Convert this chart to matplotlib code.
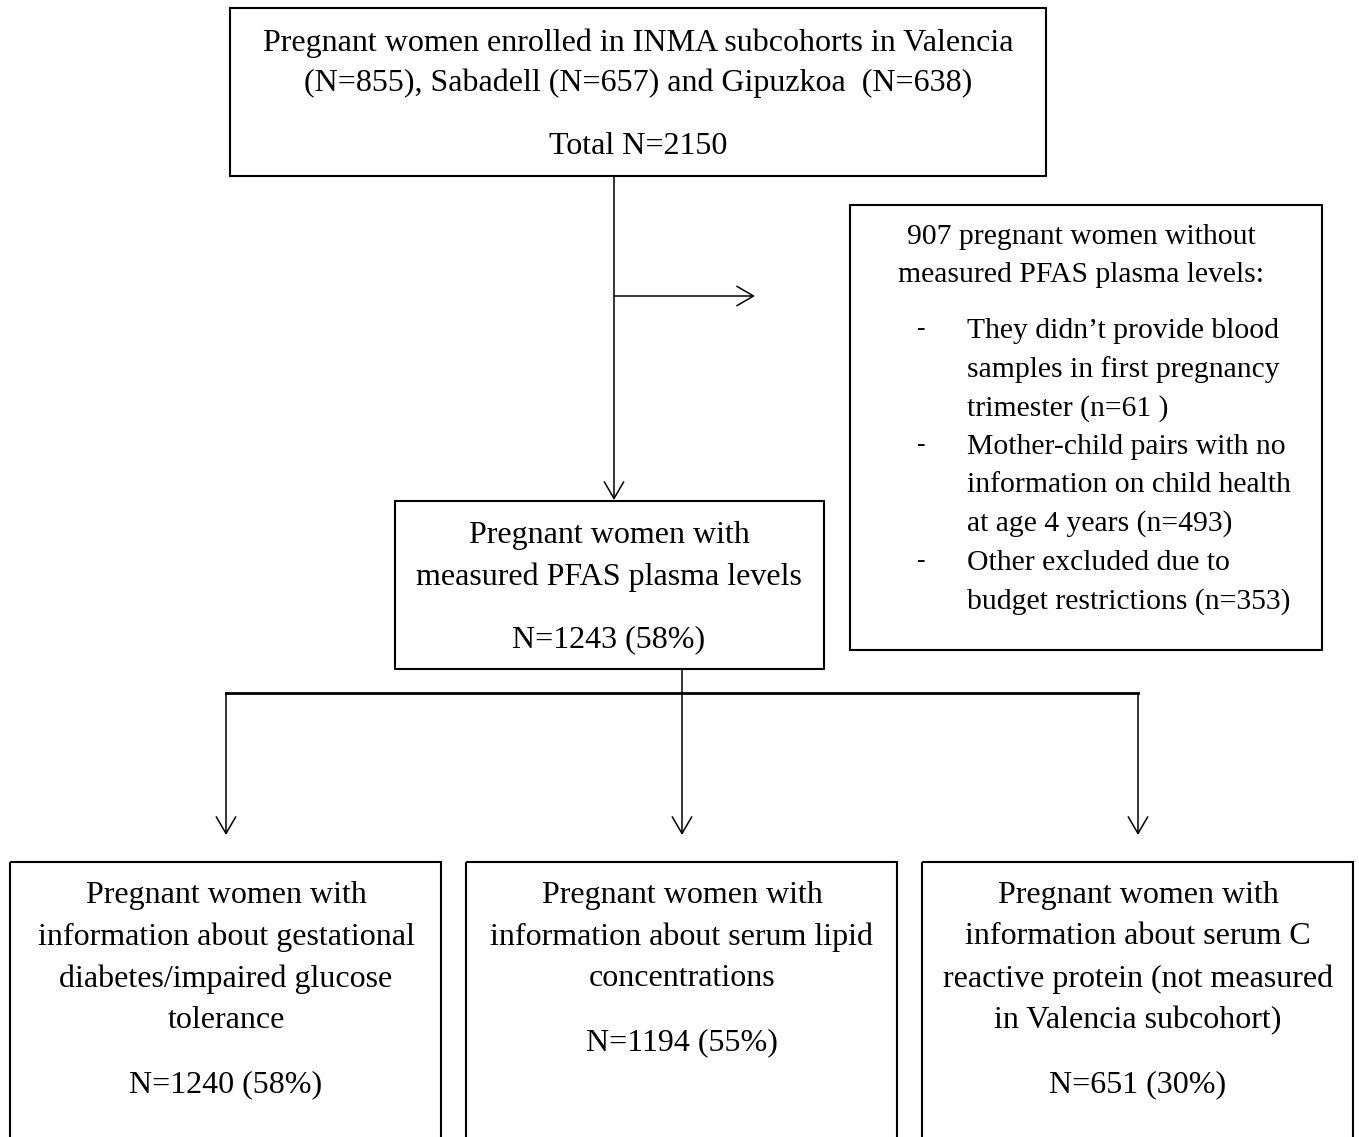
import matplotlib.pyplot as plt
from matplotlib.patches import Rectangle

plt.rcParams['font.family'] = ['Liberation Serif', 'DejaVu Serif']

W, H = 1359, 1137

# texts of the flow chart
top_lines = ["Pregnant women enrolled in INMA subcohorts in Valencia",
             "(N=855), Sabadell (N=657) and Gipuzkoa  (N=638)",
             "Total N=2150"]
excl_head = ["907 pregnant women without", "measured PFAS plasma levels:"]
excl_items = [["They didn\u2019t provide blood", "samples in first pregnancy", "trimester (n=61 )"],
              ["Mother-child pairs with no", "information on child health", "at age 4 years (n=493)"],
              ["Other excluded due to", "budget restrictions (n=353)"]]
mid_lines = ["Pregnant women with", "measured PFAS plasma levels", "N=1243 (58%)"]
bottom_lines = [["Pregnant women with", "information about gestational",
                 "diabetes/impaired glucose", "tolerance"],
                ["Pregnant women with", "information about serum lipid", "concentrations"],
                ["Pregnant women with", "information about serum C",
                 "reactive protein (not measured", "in Valencia subcohort)"]]
bottom_n = ["N=1240 (58%)", "N=1194 (55%)", "N=651 (30%)"]

fs = 23
fs_small = 21.3
lh = 42  # line height in bottom boxes
dy = 3   # nudge: va='center' sits a little high

fig = plt.figure(figsize=(W / 100, H / 100), dpi=100)
ax = fig.add_axes([0, 0, 1, 1])
ax.set_xlim(0, W)
ax.set_ylim(H, 0)
ax.axis('off')


def box(x0, y0, x1, y1):
    ax.add_patch(Rectangle((x0, y0), x1 - x0, y1 - y0, fill=False, ec='black', lw=1.5))


def arrow(x0, y0, x1, y1):
    ax.annotate('', xy=(x1, y1), xytext=(x0, y0),
                arrowprops=dict(arrowstyle='->, head_length=0.6, head_width=0.35',
                                mutation_scale=20, lw=1.1, color='black',
                                shrinkA=0, shrinkB=0))


def txt(x, y, s, ha='center', size=fs):
    ax.text(x, y + dy, s, ha=ha, va='center', fontsize=size, color='black')


# top box
box(230, 8, 1046, 176)
for s, y in zip(top_lines, [40, 80, 143]):
    txt(638, y, s)

# main arrow and side arrow
arrow(614, 176, 614, 500)
arrow(614, 296, 755, 296)

# exclusion box
box(850, 205, 1322, 650)
for s, y in zip(excl_head, [234, 272]):
    txt(1081, y, s, size=fs_small)
y = 328
for item in excl_items:
    txt(921, y - 2, '-', size=fs_small - 3)
    for s in item:
        txt(967, y, s, ha='left', size=fs_small)
        y += 38.6

# middle box
box(395, 501, 824, 669)
for s, y in zip(mid_lines, [532, 574, 637]):
    txt(609, y, s)

# distribution lines
ax.plot([682, 682], [669, 693], color='black', lw=1.1)
ax.plot([226, 1138], [693, 693], color='black', lw=2)
centers = [226, 682, 1138]
for cx in centers:
    arrow(cx, 693, cx, 835)

# bottom boxes (run past the bottom edge)
lefts = [10, 466, 922]
for x0, cx, lines, n in zip(lefts, centers, bottom_lines, bottom_n):
    box(x0, 862, x0 + 431, H + 20)
    for i, s in enumerate(lines):
        txt(cx, 892 + i * lh, s)
    txt(cx, 892 + len(lines) * lh + 22, n)

fig.savefig('out.png', dpi=100)
